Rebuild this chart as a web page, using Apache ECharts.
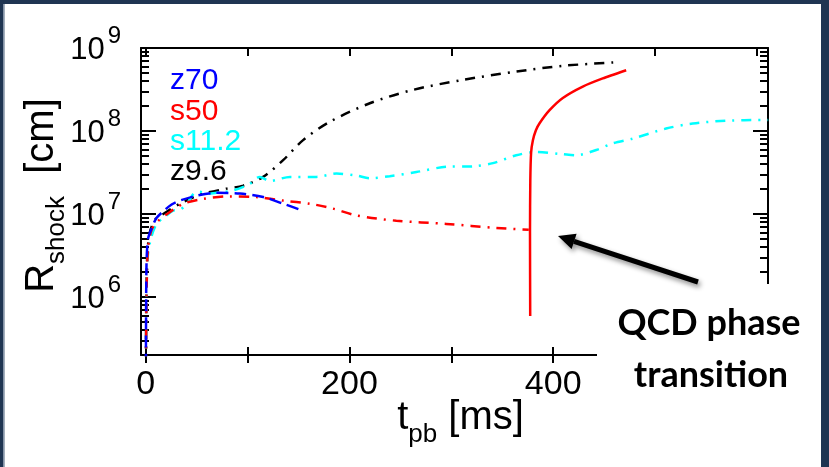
<!DOCTYPE html>
<html><head><meta charset="utf-8">
<script src="https://cdn.jsdelivr.net/npm/echarts@6/dist/echarts.min.js"></script>
<style>html,body{margin:0;padding:0;background:#fff}#c{width:829px;height:467px}</style>
</head><body><div id="c"></div>
<script>
// ---- data ----
const tZ70 = [0.2, 0.5, 1.0, 2.6, 7.5, 10.8, 17.3, 25.5, 33.6, 50, 69.6, 92.5, 115.3, 135, 154];
const rZ70 = [1.5e5, 1.2e6, 3.0e6, 5.2e6, 7.5e6, 9.0e6, 1.08e7, 1.3e7, 1.45e7, 1.66e7, 1.8e7, 1.76e7, 1.6e7, 1.33e7, 1.1e7];

const tS50 = [0.3, 0.7, 1.3, 2.5, 5.9, 12, 20, 36.9, 56.5, 82.6, 108.8, 135, 161, 184, 206.9, 246, 295, 344, 376];
const rS50 = [1.5e5, 8e5, 2.0e6, 4.0e6, 6.5e6, 8.2e6, 9.8e6, 1.33e7, 1.52e7, 1.63e7, 1.6e7, 1.45e7, 1.33e7, 1.16e7, 9.6e6, 8.3e6, 7.6e6, 6.8e6, 6.45e6];

const tS50qcd = [377.4, 377.2, 377.5, 378.3, 380, 383, 386.6, 396.4, 409.4, 429, 448.6, 471.6];
const rS50qcd = [5.9e5, 6.0e6, 2.5e7, 5.5e7, 7.7e7, 1.02e8, 1.24e8, 1.78e8, 2.5e8, 3.43e8, 4.3e8, 5.4e8];

const tS112 = [0.3, 0.8, 2, 5, 10.8, 20, 27, 33, 40, 47, 53, 60, 69.6, 85.9, 102, 112, 121.9, 141.5, 167.6, 187.3, 206.9, 220, 239.5, 265.7, 295, 321.2, 340.8, 363.7, 383.3, 409.4, 422.5, 442.2, 458.4, 478, 510.8, 536.9, 569.6, 611];
const rS112 = [1.5e5, 1.0e6, 3.0e6, 5.0e6, 7.6e6, 9.5e6, 1.1e7, 1.12e7, 1.3e7, 1.75e7, 1.85e7, 1.75e7, 1.8e7, 1.93e7, 2.3e7, 2.8e7, 2.5e7, 2.8e7, 2.8e7, 3.07e7, 2.9e7, 2.7e7, 2.85e7, 3.2e7, 3.7e7, 3.75e7, 4.1e7, 5.1e7, 5.6e7, 5.25e7, 5.1e7, 5.9e7, 7.1e7, 8.1e7, 1.07e8, 1.23e8, 1.33e8, 1.36e8];

const tZ96 = [0.3, 0.6, 1.5, 4, 10, 17.3, 25, 33.6, 45, 56.5, 79.4, 95.7, 115.3, 134.9, 154.5, 180.7, 220, 262.4, 311.4, 363.7, 409.4, 460];
const rZ96 = [1.5e5, 1.0e6, 3.0e6, 6.0e6, 8.8e6, 1.0e7, 1.15e7, 1.33e7, 1.55e7, 1.76e7, 2.02e7, 2.2e7, 2.8e7, 4.45e7, 7.76e7, 1.29e8, 2.16e8, 3.13e8, 4.13e8, 5.2e8, 6.1e8, 6.7e8];

const legendNames = ['z70', 's50', 's11.2', 'z9.6'];
const xTickValues = [0, 100, 200, 300, 400, 500, 600];
const xLabelValues = [0, 200, 400];
const yMajorValues = [1e6, 1e7, 1e8, 1e9];

// minor log ticks 2..9 x each decade
const yMinorValues = [];
for (let e = 5; e <= 8; e++) for (let m = 2; m <= 9; m++) { const v = m * Math.pow(10, e); if (v >= 2e5) yMinorValues.push(v); }

const zip = (t, r) => t.map((x, i) => [x, r[i]]);

const FONT = 'Liberation Sans, Arial, sans-serif';
const XMIN = -4.6, XMAX = 610.8, YMIN = 2e5, YMAX = 1e9;
const AX = { color: '#000', width: 2 };

const chart = echarts.init(document.getElementById('c'), null, { renderer: 'canvas' });

function xAx(pos, opts) {
  return Object.assign({
    type: 'value', min: XMIN, max: XMAX, position: pos,
    axisLine: { show: false, onZero: false, lineStyle: AX },
    axisTick: { show: true, inside: true, length: 8, customValues: xTickValues, lineStyle: AX },
    axisLabel: { show: false },
    splitLine: { show: false }
  }, opts);
}
function yAx(pos, opts) {
  return Object.assign({
    type: 'log', logBase: 10, min: YMIN, max: YMAX, position: pos,
    axisLine: { show: false, onZero: false, lineStyle: AX },
    axisTick: { show: true, inside: true, length: 15, customValues: yMajorValues, lineStyle: AX },
    axisLabel: { show: false },
    splitLine: { show: false }
  }, opts);
}

const legendColors = { 'z70': '#0000ff', 's50': '#ff0000', 's11.2': '#00ffff', 'z9.6': '#000000' };

const option = {
  animation: false,
  backgroundColor: '#fff',
  grid: { left: 141, top: 48, right: 61, bottom: 112, containLabel: false },
  legend: {
    orient: 'vertical', left: 160, top: 61, itemGap: 0.3,
    icon: 'none', itemWidth: 0, itemHeight: 0,
    selectedMode: false,
    textStyle: { fontFamily: FONT, fontSize: 30, lineHeight: 28 },
    data: legendNames.map(n => ({ name: n, textStyle: { color: legendColors[n] } }))
  },
  xAxis: [
    xAx('bottom', {
      axisLine: { show: true, onZero: false, lineStyle: AX },
      axisLabel: { show: true, customValues: xLabelValues, fontFamily: FONT, fontSize: 34, color: '#000', margin: 13 },
      name: '{a|t}{b|pb}{a| [ms]}', nameLocation: 'middle', nameGap: 43, nameMoveOverlap: false,
      nameTextStyle: { padding: [0, 0, 0, 12], rich: {
        a: { fontFamily: FONT, fontSize: 40, lineHeight: 44, verticalAlign: 'top', color: '#000' },
        b: { fontFamily: FONT, fontSize: 26, lineHeight: 26, padding: [24, 0, 0, 0], verticalAlign: 'top', color: '#000' }
      } }
    }),
    xAx('bottom', { axisTick: { show: true, inside: false, length: 8, customValues: xTickValues, lineStyle: AX } }),
    xAx('top', { axisLine: { show: true, onZero: false, lineStyle: AX } })
  ],
  yAxis: [
    yAx('left', {
      axisLine: { show: true, onZero: false, lineStyle: AX },
      axisLabel: {
        show: true, customValues: yMajorValues, margin: 20, padding: [0, 0, 16, 0],
        formatter: v => '{b|10}{s|' + Math.round(Math.log10(v)) + '}',
        rich: {
          b: { fontFamily: FONT, fontSize: 31, lineHeight: 31, padding: [10, 0, 10, 0], verticalAlign: 'top', color: '#000' },
          s: { fontFamily: FONT, fontSize: 24, lineHeight: 24, padding: [0, 0, 0, 3], verticalAlign: 'top', color: '#000' }
        }
      },
      name: '{a|R}{b|shock}{a|  [cm]}', nameLocation: 'middle', nameRotate: 90, nameGap: 75, nameMoveOverlap: false,
      nameTextStyle: { padding: [0, 0, 0, 12], rich: {
        a: { fontFamily: FONT, fontSize: 40, lineHeight: 44, verticalAlign: 'top', color: '#000' },
        b: { fontFamily: FONT, fontSize: 26, lineHeight: 26, padding: [22, 0, 0, 0], verticalAlign: 'top', color: '#000' }
      } }
    }),
    yAx('left', { axisTick: { show: true, inside: true, length: 8, customValues: yMinorValues, lineStyle: AX } }),
    yAx('right', { axisLine: { show: true, onZero: false, lineStyle: AX } }),
    yAx('right', { axisTick: { show: true, inside: true, length: 8, customValues: yMinorValues, lineStyle: AX } })
  ],
  series: [
    { name: 'z70', type: 'line', data: zip(tZ70, rZ70), showSymbol: false, symbol: 'none', smooth: 0.3,
      itemStyle: { color: '#0000ff' }, lineStyle: { color: '#0000ff', width: 2.5, type: [12, 6] }, z: 5 },
    { name: 's50', type: 'line', data: zip(tS50, rS50), showSymbol: false, symbol: 'none', smooth: 0.3,
      itemStyle: { color: '#ff0000' }, lineStyle: { color: '#ff0000', width: 2.5, type: [10, 7, 2, 7] }, z: 4 },
    { name: 's50', type: 'line', data: zip(tS50qcd, rS50qcd), showSymbol: false, symbol: 'none', smooth: 0.2,
      itemStyle: { color: '#ff0000' }, lineStyle: { color: '#ff0000', width: 2.5 }, z: 4 },
    { name: 's11.2', type: 'line', data: zip(tS112, rS112), showSymbol: false, symbol: 'none', smooth: 0.3,
      itemStyle: { color: '#00ffff' }, lineStyle: { color: '#00ffff', width: 2.5, type: [10, 7, 2, 7] }, z: 3 },
    { name: 'z9.6', type: 'line', data: zip(tZ96, rZ96), showSymbol: false, symbol: 'none', smooth: 0.3,
      itemStyle: { color: '#000000' }, lineStyle: { color: '#000000', width: 2.5, type: [10, 7, 2, 7] }, z: 2 }
  ],
  graphic: [
    // white box behind the annotation (covers the lower-right axis corner)
    { type: 'rect', z: 100, shape: { x: 597, y: 284, width: 224, height: 183 }, style: { fill: '#fff' } },
    { type: 'text', z: 101, x: 709, y: 323, style: { text: 'QCD phase', fill: '#000', font: 'bold 36px Lato, "Open Sans", sans-serif', align: 'center', verticalAlign: 'middle' } },
    { type: 'text', z: 101, x: 711, y: 375, style: { text: 'transition', fill: '#000', font: 'bold 36px Lato, "Open Sans", sans-serif', align: 'center', verticalAlign: 'middle' } },
    // arrow
    { type: 'line', z: 102, shape: { x1: 698, y1: 282, x2: 574, y2: 241.3 },
      style: { stroke: '#000', lineWidth: 5, shadowBlur: 5, shadowColor: 'rgba(0,0,0,0.45)', shadowOffsetX: 2, shadowOffsetY: 3 } },
    { type: 'polygon', z: 102, shape: { points: [[558, 236], [576.6, 233.7], [571.6, 248.9]] },
      style: { fill: '#000', shadowBlur: 5, shadowColor: 'rgba(0,0,0,0.45)', shadowOffsetX: 2, shadowOffsetY: 3 } },
    // frame
    { type: 'rect', z: 110, shape: { x: 0, y: 0, width: 829, height: 4 }, style: { fill: '#1f3552' } },
    { type: 'rect', z: 110, shape: { x: 0, y: 0, width: 3.5, height: 467 }, style: { fill: '#1f3552' } },
    { type: 'rect', z: 110, shape: { x: 3.5, y: 4, width: 1.2, height: 463 }, style: { fill: '#7d8ea3' } },
    { type: 'rect', z: 110, shape: { x: 821, y: 0, width: 8, height: 467 }, style: { fill: '#1f3552' } }
  ]
};
chart.setOption(option);
</script>
</body></html>
